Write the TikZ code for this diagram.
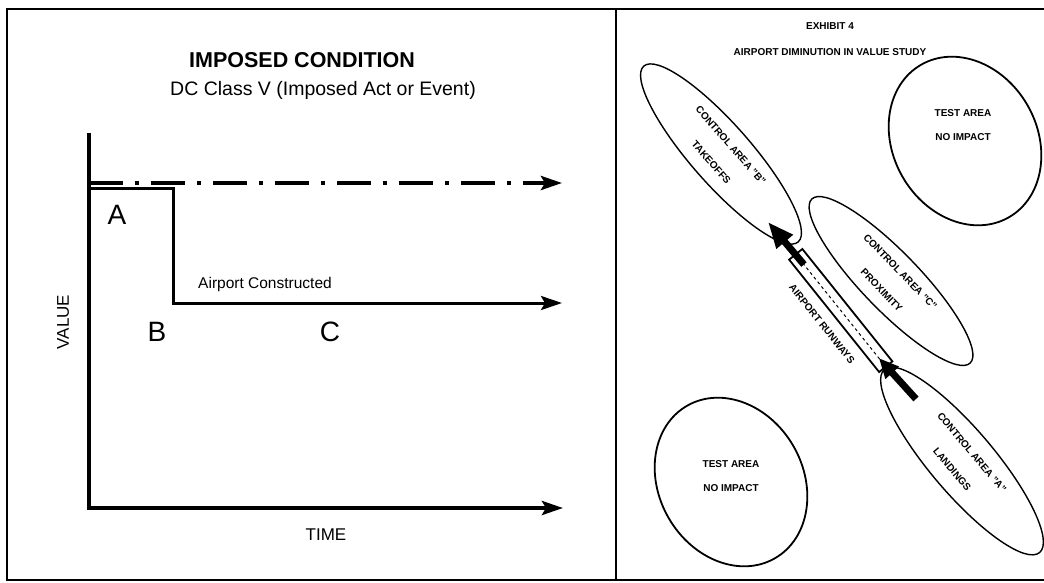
\documentclass[tikz,border=0pt]{standalone}
\usepackage{fontspec}
\setmainfont{Liberation Sans}
\usetikzlibrary{arrows.meta,shapes.geometric,calc}
\begin{document}
\begin{tikzpicture}[x=1pt,y=1pt,
  frame/.style={line width=2.6pt},
  axisline/.style={line width=4pt,line join=miter,-{Stealth[length=21pt,width=14pt,inset=4pt]}},
  dashdotline/.style={line width=4pt,dash pattern=on 34pt off 12pt on 4pt off 12pt,-{Stealth[length=21pt,width=14pt,inset=4pt]}},
  stepline/.style={line width=3pt,line join=miter,-{Stealth[length=21pt,width=14pt,inset=4pt]}},
  titletext/.style={font=\fontsize{21.5}{26}\selectfont\bfseries},
  subtext/.style={font=\fontsize{19.5}{24}\selectfont},
  bigletter/.style={font=\fontsize{28}{32}\selectfont},
  axislabel/.style={font=\fontsize{17}{20}\selectfont},
  smalllabel/.style={font=\fontsize{15.5}{19}\selectfont},
  tiny/.style={font=\fontsize{10}{24}\selectfont\bfseries,align=center,inner sep=0pt},
  zone/.style={ellipse,draw,line width=1.4pt,inner sep=0pt,align=center,font=\fontsize{10}{26}\selectfont\bfseries},
  testzone/.style={ellipse,draw,line width=1.8pt,inner sep=0pt,minimum width=144pt,minimum height=176pt,rotate=30},
  fatarrow/.style 2 args={line width=7pt,-{Triangle[length=#1,width=#2]}}
]
\useasboundingbox (0,0) rectangle (1044,-582);

% frames
\draw[frame] (1044,-9) -- (7,-9) -- (7,-580) -- (1044,-580);
\draw[frame] (616,-9) -- (616,-580);

% ---------- left panel ----------
\node[titletext] (title) at (302,-60) {IMPOSED CONDITION};
\node[subtext] (subtitle) at (323,-90) {DC Class V (Imposed Act or Event)};

\coordinate (vtop) at (89,-133);
\coordinate (origin) at (89,-508);
\coordinate (xend) at (563,-508);
\draw[axisline] (vtop) -- (origin) -- (xend);

\coordinate (pre0) at (89,-183);
\coordinate (pre1) at (562,-183);
\draw[dashdotline] (pre0) -- (pre1);

\coordinate (s0) at (89,-188.5);
\coordinate (s1) at (173,-188.5);
\coordinate (s2) at (173,-303);
\coordinate (s3) at (562,-303);
\draw[stepline] (s0) -- (s1) -- (s2) -- (s3);

\node[bigletter] (lA) at (117,-215) {A};
\node[bigletter] (lB) at (157,-332) {B};
\node[bigletter] (lC) at (330,-332) {C};
\node[smalllabel] (built) at (265,-284) {Airport Constructed};
\node[axislabel,rotate=90] (value) at (63,-322) {VALUE};
\node[axislabel] (time) at (326,-535) {TIME};

% ---------- right panel ----------
\node[tiny] (exh) at (830,-26) {EXHIBIT 4};
\node[tiny] (study) at (830,-52) {AIRPORT DIMINUTION IN VALUE STUDY};

\node[testzone] (testTR) at (965,-141) {};
\node[tiny] (testTRtxt) at (963,-125) {TEST AREA\\NO IMPACT};
\node[testzone] (testBL) at (731,-482) {};
\node[tiny] (testBLtxt) at (731,-476) {TEST AREA\\NO IMPACT};

\node[zone,minimum width=234pt,minimum height=60pt,rotate=-48.7] (zoneB) at (721,-154) {CONTROL AREA "B"\\TAKEOFFS};
\node[zone,minimum width=228pt,minimum height=58pt,rotate=-46] (zoneC) at (891,-281) {CONTROL AREA "C"\\PROXIMITY};
\node[zone,minimum width=240pt,minimum height=64pt,rotate=-49.7] (zoneA) at (962,-461) {CONTROL AREA "A"\\LANDINGS};

\node[draw,rectangle,line width=1.8pt,minimum width=144pt,minimum height=17pt,inner sep=0pt,rotate=-51.3,fill=white] (runway) at (840.75,-310.5) {};
\draw[line width=1pt,dash pattern=on 3pt off 3pt] ($(runway.west)!12pt!(runway.east)$) -- ($(runway.east)!10pt!(runway.west)$);
\node[tiny,rotate=-51.3] (rwlabel) at (822,-324) {AIRPORT RUNWAYS};

\coordinate (upTip) at (768,-222);
\draw[fatarrow={26pt}{20pt}] ($(runway.west)!14pt!(runway.east)$) -- (upTip);
\coordinate (lowTail) at (916,-399);
\draw[fatarrow={20pt}{17pt}] (lowTail) -- ($(runway.east)!12pt!(runway.west)$);
\end{tikzpicture}
\end{document}
